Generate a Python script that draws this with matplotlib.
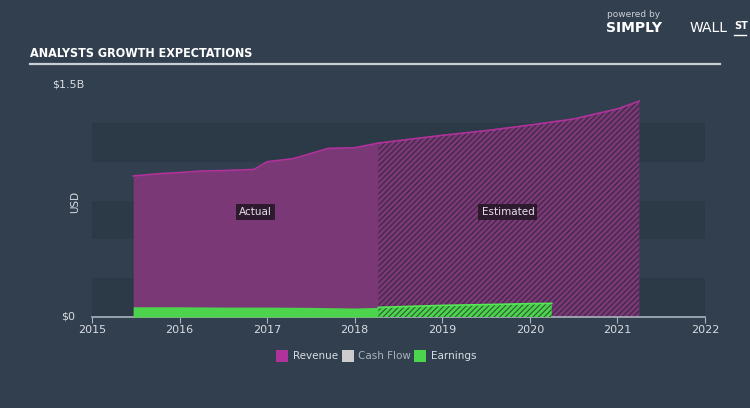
import matplotlib
matplotlib.use('Agg')
import matplotlib.pyplot as plt
from matplotlib.patches import Rectangle

# revenue, in billions USD
rev_act_x = [2015.47, 2015.75, 2016.0, 2016.25, 2016.5, 2016.85, 2017.0, 2017.3, 2017.7, 2018.0, 2018.27]
rev_act_y = [0.908, 0.922, 0.930, 0.940, 0.943, 0.950, 1.000, 1.020, 1.086, 1.090, 1.120]
rev_est_x = [2018.27, 2019.0, 2019.5, 2020.0, 2020.5, 2021.0, 2021.25]
rev_est_y = [1.120, 1.170, 1.200, 1.236, 1.275, 1.340, 1.390]

# earnings, in billions USD
earn_act_x = [2015.47, 2016.0, 2016.5, 2017.0, 2017.5, 2018.0, 2018.27]
earn_act_y = [0.066, 0.066, 0.064, 0.064, 0.062, 0.058, 0.062]
earn_est_x = [2018.27, 2019.0, 2019.5, 2020.0, 2020.25]
earn_est_y = [0.062, 0.075, 0.080, 0.086, 0.088]

years = [2015, 2016, 2017, 2018, 2019, 2020, 2021, 2022]
legend_names = ['Revenue', 'Cash Flow', 'Earnings']

bg = '#323f4f'
band = '#2c3946'
rev_fill = '#7b3877'
rev_line = '#b0329a'
earn_fill = '#4cd44c'
txt = '#d8dde2'

plt.rcParams['hatch.linewidth'] = 0.8

fig = plt.figure(figsize=(7.5, 4.08), dpi=100, facecolor=bg)
ax = fig.add_axes([0.1227, 0.223, 0.8173, 0.571])
ax.set_facecolor(bg)
ax.set_xlim(2015, 2022)
ax.set_ylim(0, 1.5)

# horizontal bands
for i in range(6):
    if i % 2 == 0:
        ax.axhspan(i * 0.25, (i + 1) * 0.25, color=band, lw=0, zorder=0)

# revenue
ax.fill_between(rev_act_x, 0, rev_act_y, color=rev_fill, lw=0, zorder=2)
ax.plot(rev_act_x, rev_act_y, color=rev_line, lw=1.2, zorder=4)
ax.fill_between(rev_est_x, 0, rev_est_y, facecolor=rev_fill, edgecolor='#3a2740',
                hatch='//////', lw=0, zorder=2)
ax.plot(rev_est_x, rev_est_y, color=rev_line, lw=1.2, zorder=4)

# earnings
ax.fill_between(earn_act_x, 0, earn_act_y, color=earn_fill, lw=0, zorder=3)
ax.fill_between(earn_est_x, 0, earn_est_y, facecolor=earn_fill, edgecolor='#2d5a35',
                hatch='//////', lw=0, zorder=3)
ax.plot(earn_est_x, earn_est_y, color='#55e855', lw=1.2, zorder=4)

for lbl, xx in [('Actual', 2016.87), ('Estimated', 2019.75)]:
    ax.text(xx, 0.675, lbl, color='#e6e0ea', fontsize=7.5, ha='center', va='center', zorder=6,
            bbox=dict(boxstyle='square,pad=0.3', fc='#2e1a2f', ec='none'))

for s in ['top', 'right', 'left']:
    ax.spines[s].set_visible(False)
ax.spines['bottom'].set_color('#aab3bc')
ax.spines['bottom'].set_linewidth(1.2)
ax.set_xticks(years)
ax.set_xticklabels([str(y) for y in years])
ax.tick_params(axis='x', colors='#aab3bc', labelcolor=txt, labelsize=8, length=4, pad=2)
ax.set_yticks([])

fig.text(0.0907, 0.794, '$1.5B', color=txt, fontsize=8, ha='center', va='center')
fig.text(0.0907, 0.225, '$0', color=txt, fontsize=8, ha='center', va='center')
fig.text(0.1, 0.505, 'USD', color=txt, fontsize=7.5, rotation=90, ha='center', va='center')

# title
fig.text(0.04, 0.87, 'ANALYSTS GROWTH EXPECTATIONS', color='white', fontsize=9,
         fontweight='bold', fontstretch='condensed',
         family=['DejaVu Sans Condensed', 'DejaVu Sans'], ha='left', va='center')
fig.add_artist(plt.Line2D([0.04, 0.96], [0.843, 0.843], color='#c9cfd6', lw=1.6))

# brand
fig.text(0.809, 0.965, 'powered by', color='#c9cfd6', fontsize=6.5, ha='left', va='center')
fig.text(0.808, 0.932, 'SIMPLY', color='white', fontsize=10, fontweight='bold', ha='left', va='center')
fig.text(0.92, 0.932, 'WALL', color='white', fontsize=10, ha='left', va='center')
fig.text(0.979, 0.937, 'ST', color='white', fontsize=7, fontweight='bold', ha='left', va='center')
fig.add_artist(plt.Line2D([0.979, 0.994], [0.915, 0.915], color='white', lw=1))

# legend
lx = [0.368, 0.456, 0.552]
cols = [rev_line, '#cccccc', earn_fill]
for x0, c, name in zip(lx, cols, legend_names):
    fig.add_artist(Rectangle((x0, 0.113), 0.016, 0.029, transform=fig.transFigure,
                             facecolor=c, edgecolor='none'))
    fig.text(x0 + 0.022, 0.128, name, color=txt if name != 'Cash Flow' else '#aab3bc',
             fontsize=7.5, ha='left', va='center')

fig.savefig('out.png', dpi=100, facecolor=bg)
